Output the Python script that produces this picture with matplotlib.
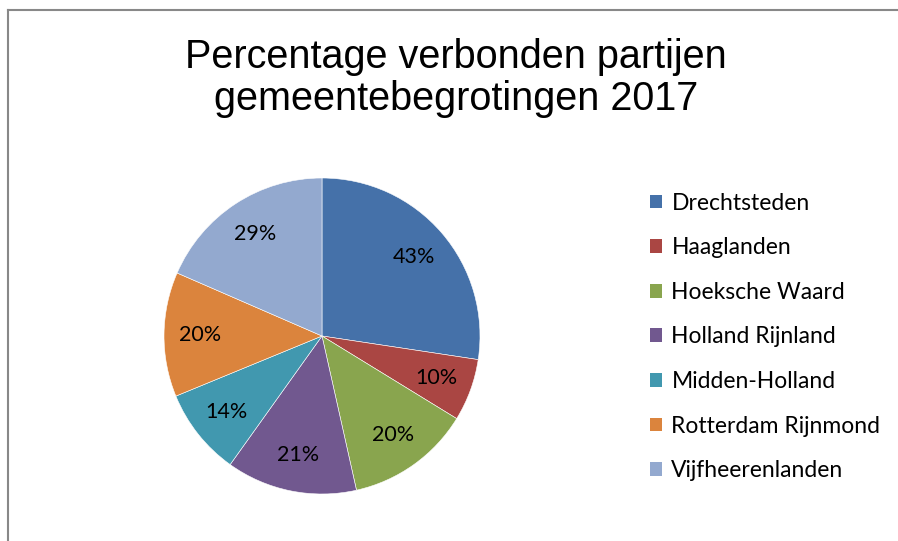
import matplotlib
matplotlib.use('Agg')
import matplotlib.pyplot as plt
from matplotlib.patches import Patch
from matplotlib.lines import Line2D

regios = ['Drechtsteden', 'Haaglanden', 'Hoeksche Waard', 'Holland Rijnland',
          'Midden-Holland', 'Rotterdam Rijnmond', 'Vijfheerenlanden']
percentages = [43, 10, 20, 21, 14, 20, 29]
kleuren = ['#4571A9', '#AA4643', '#89A54E', '#71588F', '#4198AF', '#DB843D', '#93A9CF']

W, H = 898, 541
fig = plt.figure(figsize=(W / 100, H / 100), dpi=100)

# rand van het kader
fig.add_artist(Line2D([7.5 / W, 7.5 / W], [0, 1 - 9.5 / H], color='#888888', lw=1.5))
fig.add_artist(Line2D([7.5 / W, 1], [1 - 9.5 / H, 1 - 9.5 / H], color='#888888', lw=1.5))

fig.text(456 / W, 1 - 78 / H, 'Percentage verbonden partijen\ngemeentebegrotingen 2017',
         ha='center', va='center', fontsize=28.5, family='Liberation Sans',
         linespacing=1.15)

cx, cy, r = 322, 336, 158
ax = fig.add_axes([(cx - r) / W, (H - cy - r) / H, 2 * r / W, 2 * r / H])
totaal = sum(percentages)
wedges, texts, autotexts = ax.pie(
    percentages, colors=kleuren, startangle=90, counterclock=False,
    autopct=lambda p: '{:.0f}%'.format(p * totaal / 100), pctdistance=0.77,
    wedgeprops=dict(edgecolor='white', linewidth=0.4),
    textprops=dict(fontsize=15.5, family='Lato', color='black'))
ax.set_xlim(-1, 1)
ax.set_ylim(-1, 1)

handles = [Patch(facecolor=k, edgecolor='none') for k in kleuren]
fig.legend(handles, regios, loc='upper left', bbox_to_anchor=(629 / W, 1 - 172 / H),
           frameon=False, prop=dict(family='Lato', size=16.5),
           handlelength=0.55, handleheight=0.55, handletextpad=0.4,
           labelspacing=1.03)

fig.savefig('out.png', dpi=100)
